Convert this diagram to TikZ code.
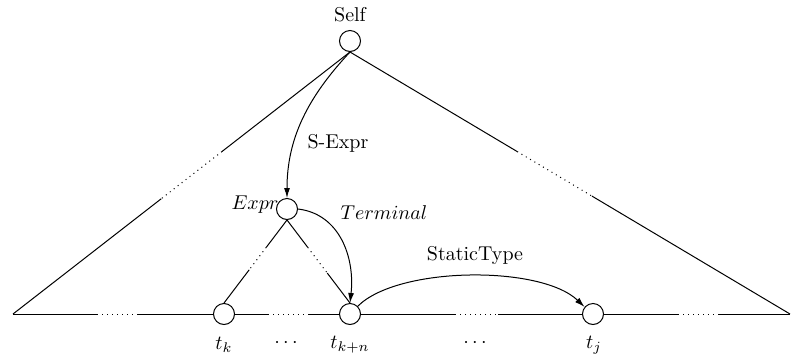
\documentclass[tikz,border=0pt]{standalone}
\usetikzlibrary{arrows.meta,calc}
\begin{document}
\begin{tikzpicture}[x=0.5pt,y=-0.5pt,line width=0.5pt,
  tok/.style={circle,draw,minimum size=10.5pt,inner sep=0pt},
  arr/.style={-{Latex[length=5pt,width=3pt]}},
  lbl/.style={inner sep=1pt}]
\useasboundingbox (0,0) rectangle (794,355);
% nodes
\node[tok] (self) at (350,41) {};
\node[tok] (expr) at (287,209) {};
\node[tok] (tk) at (224,314) {};
\node[tok] (tkn) at (350,314) {};
\node[tok] (tj) at (593,314) {};
\coordinate (L) at (13,314);
\coordinate (R) at (790,314);
% big triangle sides
\draw (self.south) -- ($(self.south)!0.38!(L)$) coordinate (l1);
\draw[dotted] (l1) -- ($(self.south)!0.56!(L)$) coordinate (l2);
\draw (l2) -- (L);
\draw (self.south) -- ($(self.south)!0.38!(R)$) coordinate (r1);
\draw[dotted] (r1) -- ($(self.south)!0.55!(R)$) coordinate (r2);
\draw (r2) -- (R);
% baseline
\coordinate (b1) at (97,314);  \coordinate (b2) at (138,314);
\coordinate (b3) at (268,314); \coordinate (b4) at (308,314);
\coordinate (b5) at (455,314); \coordinate (b6) at (498,314);
\coordinate (b7) at (678,314); \coordinate (b8) at (718,314);
\draw (L) -- (b1); \draw[dotted] (b1) -- (b2); \draw (b2) -- (tk.west);
\draw (tk.east) -- (b3); \draw[dotted] (b3) -- (b4); \draw (b4) -- (tkn.west);
\draw (tkn.east) -- (b5); \draw[dotted] (b5) -- (b6); \draw (b6) -- (tj.west);
\draw (tj.east) -- (b7); \draw[dotted] (b7) -- (b8); \draw (b8) -- (R);
% small triangle
\draw (expr.south) -- ($(expr.south)!0.33!(tk.north)$) coordinate (e1);
\draw[dotted] (e1) -- ($(expr.south)!0.6!(tk.north)$) coordinate (e2);
\draw (e2) -- (tk.north);
\draw (expr.south) -- ($(expr.south)!0.33!(tkn.north)$) coordinate (e3);
\draw[dotted] (e3) -- ($(expr.south)!0.64!(tkn.north)$) coordinate (e4);
\draw (e4) -- (tkn.north);
% arrows
\draw[arr] (self.south) .. controls +(-42,45) and +(0,-60) .. (expr.north);
\draw[arr] (expr.east) .. controls +(42,5) and +(5,-45) .. (tkn.north);
\draw[arr] (tkn.45) .. controls +(40,-40) and +(-44,-42) .. (tj.140);
% labels
\node[lbl] (lself) at (350,15) {Self};
\node[lbl,anchor=east] (lexpr) at (281,205) {$Expr$};
\node[lbl] (lterm) at (384,213) {$Terminal$};
\node[lbl] (lsexpr) at (338,143) {S-Expr};
\node[lbl] (lst) at (475,255) {StaticType};
\node[lbl] (ltk) at (224,345) {$t_k$};
\node[lbl] (ld1) at (286,343) {$\cdots$};
\node[lbl] (ltkn) at (350,345) {$t_{k+n}$};
\node[lbl] (ld2) at (475,343) {$\cdots$};
\node[lbl] (ltj) at (594,345) {$t_j$};
\end{tikzpicture}
\end{document}
